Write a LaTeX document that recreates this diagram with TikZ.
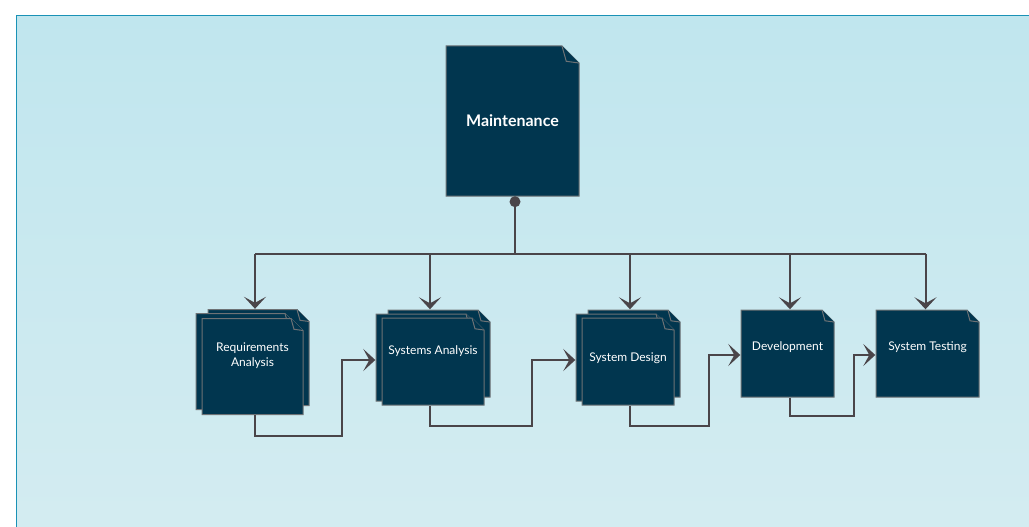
\documentclass[tikz,border=0pt]{standalone}
\usepackage{fontspec}
\newfontfamily\lato{Lato}
\usetikzlibrary{shapes, arrows.meta, positioning, calc}
\definecolor{pagefill}{HTML}{01364F}
\definecolor{pageline}{HTML}{6E7275}
\definecolor{wire}{HTML}{4A4549}
\definecolor{frame}{HTML}{1A92B6}
\definecolor{bgtop}{HTML}{C0E6EE}
\definecolor{bgbot}{HTML}{D4ECF1}

\begin{document}
\begin{tikzpicture}[x=1pt, y=-1pt,
    every node/.style={font=\lato\fontsize{12}{14.5}\selectfont, text=white},
    page/.style={rectangle, inner sep=0pt, align=center, path picture={
        \coordinate (pgne) at ([shift={(-0.5,0.5)}]path picture bounding box.north east);
        \coordinate (pgsw) at ([shift={(0.5,-0.5)}]path picture bounding box.south west);
        \draw[pageline, fill=pagefill, line width=1pt]
            (pgsw) |- ($(pgne)+(-#1,0)$) -- ($(pgne)+(0,#1)$) -- (pgne |- pgsw) -- cycle;
        \draw[pageline, fill=pagefill, line width=1pt]
            ($(pgne)+(-#1,0)$) -- ++(0.25*#1,0.9*#1) -- ($(pgne)+(0,#1)$);}},
    page/.default=12,
    line/.style={draw=wire, line width=2pt},
    arr/.style={line, -{Stealth[length=12pt, width=22pt, inset=6pt]}}]

                    \clip (0,0) rectangle (1029,527);
                    \shade [top color=bgtop, bottom color=bgbot, draw=frame, line width=1pt] (16.5,15.5) rectangle (1040,540);

                    \node [page=17, minimum width=134, minimum height=151,
                        font=\lato\bfseries\fontsize{16}{19}\selectfont] (maint) at (512.5,121) {Maintenance};

                    \node [page, minimum width=102, minimum height=97] (req3) at (258.5,357.5) {};
                    \node [page, minimum width=102, minimum height=97] (req2) at (246.5,361.5) {};
                    \node [page, minimum width=102, minimum height=97, text depth=23.5pt] (req) at (252.5,366.5) {Requirements\\Analysis};

                    \node [page, minimum width=103, minimum height=88] (sa3) at (439,353.5) {};
                    \node [page, minimum width=103, minimum height=88] (sa2) at (427,357.5) {};
                    \node [page, minimum width=103, minimum height=88, text depth=23.5pt] (sa) at (433,361.5) {Systems Analysis};

                    \node [page, minimum width=93, minimum height=88] (sd3) at (634,353.5) {};
                    \node [page, minimum width=93, minimum height=88] (sd2) at (622,357.5) {};
                    \node [page, minimum width=93, minimum height=88, text depth=9.5pt] (sd) at (628,361.5) {System Design};

                    \node [page, minimum width=94, minimum height=88, text depth=15.5pt] (dev) at (787.5,353.5) {Development};
                    \node [page, minimum width=104, minimum height=88, text depth=15.5pt] (st) at (927.5,353.5) {System Testing};

                    \node [circle, fill=wire, inner sep=0pt, minimum size=11] (joint) at ($(maint.south)+(2.5,5)$) {};
                    \coordinate (bus) at ($(joint)+(0,52)$);

                    % drop points on the page tops
                    \coordinate (dropreq) at ($(req3.north)+(-3.5,0)$);
                    \coordinate (dropsa) at ($(sa3.north)+(-9,0)$);
                    \coordinate (dropsd) at ($(sd3.north)+(-4,0)$);
                    \coordinate (dropdev) at ($(dev.north)+(2.5,0)$);
                    \coordinate (dropst) at ($(st.north)+(-2,0)$);

                    \draw [line] (joint) -- (bus);
                    \draw [line] (bus -| dropreq) -- (bus -| dropst);
                    \draw [arr] (bus -| dropreq) -- (dropreq);
                    \draw [arr] (bus -| dropsa) -- (dropsa);
                    \draw [arr] (bus -| dropsd) -- (dropsd);
                    \draw [arr] (bus -| dropdev) -- (dropdev);
                    \draw [arr] (bus -| dropst) -- (dropst);

                    \draw [arr] ([xshift=2.5pt]req.south) -- ++(0,21) -| ($(sa2.west)+(-33,2.5)$) -- ([yshift=-2.5pt]sa2.west);
                    \draw [arr] ([xshift=-3pt]sa.south) -- ++(0,20) -| ($(sd2.west)+(-43,2.5)$) -- ([yshift=-2.5pt]sd2.west);
                    \draw [arr] ([xshift=2pt]sd.south) -- ++(0,20) -| ($(dev.west)+(-31,1.5)$) -- ([yshift=-1.5pt]dev.west);
                    \draw [arr] ([xshift=2.5pt]dev.south) -- ++(0,18) -| ($(st.west)+(-21,1.5)$) -- ([yshift=-1.5pt]st.west);
                \end{tikzpicture}
\end{document}
